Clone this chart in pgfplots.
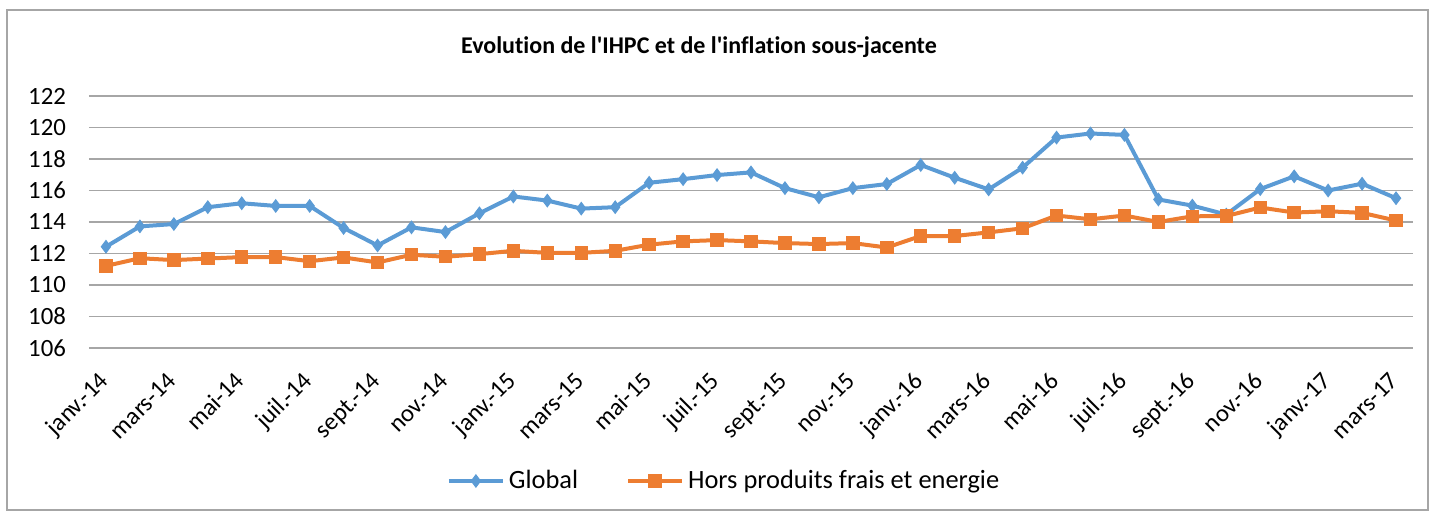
\documentclass[border=0pt]{standalone}
\usepackage{pgfplots}
\pgfplotsset{compat=1.18}
\usepackage{pgfplotstable}
\usepackage{fontspec}
\setmainfont{Carlito}[Ligatures=NoCommon]
\definecolor{cblue}{HTML}{5B9BD5}
\definecolor{corange}{HTML}{ED7D31}
\definecolor{cgrid}{HTML}{A6A6A6}
\definecolor{cframe}{HTML}{A6A6A6}
\pgfplotstableread{
x g o
0 112.43 111.21
1 113.72 111.70
2 113.87 111.58
3 114.94 111.68
4 115.19 111.77
5 115.02 111.77
6 115.02 111.51
7 113.62 111.75
8 112.51 111.43
9 113.66 111.92
10 113.36 111.79
11 114.55 111.96
12 115.62 112.17
13 115.36 112.04
14 114.85 112.04
15 114.94 112.17
16 116.49 112.56
17 116.72 112.77
18 116.98 112.85
19 117.15 112.77
20 116.15 112.66
21 115.57 112.60
22 116.15 112.66
23 116.41 112.38
24 117.62 113.11
25 116.81 113.11
26 116.07 113.34
27 117.45 113.60
28 119.36 114.41
29 119.62 114.17
30 119.53 114.41
31 115.43 114.00
32 115.04 114.36
33 114.47 114.38
34 116.09 114.92
35 116.90 114.60
36 116.00 114.68
37 116.43 114.58
38 115.51 114.09
}\data
\begin{document}
\begin{tikzpicture}
\begin{axis}[
  scale only axis,
  width=662pt, height=126pt,
  xmin=-0.5, xmax=38.5,
  ymin=106, ymax=122,
  ytick={106,108,...,122},
  xtick={0,2,...,38},
  xticklabels={janv.-14,mars-14,mai-14,juil.-14,sept.-14,nov.-14,janv.-15,mars-15,mai-15,juil.-15,sept.-15,nov.-15,janv.-16,mars-16,mai-16,juil.-16,sept.-16,nov.-16,janv.-17,mars-17},
  xticklabel style={font=\fontsize{12.3}{14}\selectfont, xshift=2pt, yshift=-17pt, rotate=45, anchor=base east, inner sep=0pt},
  yticklabel style={font=\fontsize{12.4}{14}\selectfont, xshift=-8pt},
  /pgf/number format/assume math mode=true,
  ymajorgrids, major grid style={cgrid, line width=0.8pt},
  axis line style={draw=none},
  tick style={draw=none},
  clip=false,
  legend columns=2,
  legend style={draw=none, fill=none, at={(rel axis cs:0.4804,-0.5278)}, anchor=center,
    font=\fontsize{13.2}{15}\selectfont,
    /tikz/every even column/.append style={column sep=22pt}},
  legend cell align=left,
  legend image code/.code={\draw[#1, mark repeat=2, mark phase=2] plot coordinates {(0pt,0pt) (13.5pt,0pt) (27pt,0pt)};},
]
\addplot[cblue, line width=2pt, mark=diamond*, mark size=3.1pt, mark options={fill=cblue, draw=cblue, line width=0.5pt}] table[x=x, y=g] {\data};
\addlegendentry{Global}
\addplot[corange, line width=2pt, mark=square*, mark size=3.1pt, mark options={fill=corange, draw=corange, line width=0.5pt}] table[x=x, y=o] {\data};
\addlegendentry{Hors produits frais et energie}
\node[font=\bfseries\fontsize{12}{14}\selectfont] at (rel axis cs:0.4607,1.1944) {Evolution de l\textquotesingle IHPC et de l\textquotesingle inflation sous-jacente};
\coordinate (SW) at (rel axis cs:0,0);
\coordinate (NE) at (rel axis cs:1,1);
\end{axis}
\draw[cframe, line width=0.7pt] ([xshift=-41pt,yshift=-81pt]SW) rectangle ([xshift=7.5pt,yshift=43pt]NE);
\pgfresetboundingbox
\useasboundingbox ([xshift=-44.5pt,yshift=-84.5pt]SW) rectangle ([xshift=11pt,yshift=48pt]NE);
\end{tikzpicture}
\end{document}
